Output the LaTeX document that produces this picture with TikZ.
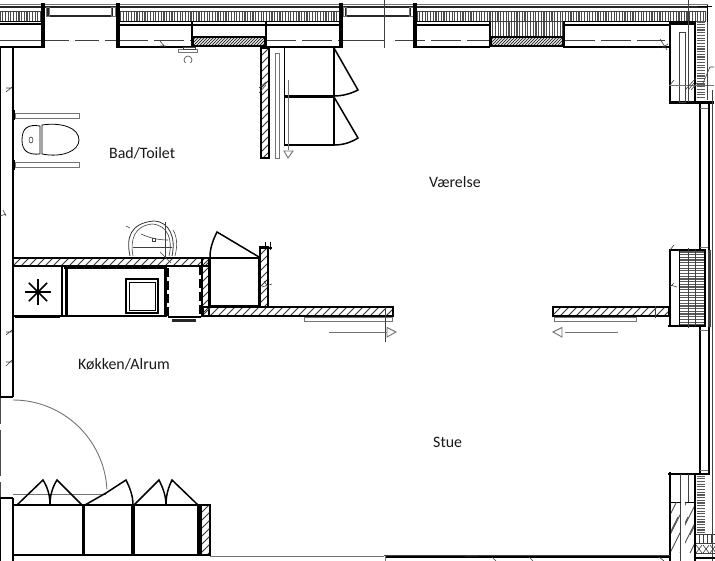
\documentclass[tikz,border=0pt]{standalone}
\usepackage{fontspec}
\setmainfont{Carlito}
\tikzset{
  wall/.style={line width=2pt,black},
  heavy/.style={line width=3.2pt,black},
  med/.style={line width=1.4pt,black!85},
  thin/.style={line width=.6pt,black!75},
  soft/.style={line width=.9pt,black!55},
  lab/.style={font=\fontsize{15.9}{18}\selectfont,inner sep=0pt,text=black!90},
}
\newcommand{\hatchbox}[5][6]{% spacing, x1 y1 x2 y2
  \begin{scope}
    \clip (#2,#3) rectangle (#4,#5);
    \pgfmathsetmacro{\hh}{#5-#3}
    \pgfmathsetmacro{\xs}{#2-\hh}
    \pgfmathsetmacro{\xn}{\xs+#1}
    \foreach \q in {\xs,\xn,...,#4} \draw[line width=1pt,black!80] (\q,#5) -- ++(\hh,-\hh);
  \end{scope}
  \draw[line width=1.1pt] (#2,#3) rectangle (#4,#5);
}
\newcommand{\vstripes}[4]{%
  \begin{scope}
    \clip (#1,#2) rectangle (#3,#4);
    \pgfmathsetmacro{\xn}{#1+2.7}
    \foreach \q in {#1,\xn,...,#3} \draw[line width=1.2pt,black!70] (\q,#2) -- (\q,#4);
  \end{scope}
  \draw[thin] (#1,#2) -- (#3,#2) (#1,#4) -- (#3,#4);
}
\newcommand{\hstripes}[4]{%
  \begin{scope}
    \clip (#1,#2) rectangle (#3,#4);
    \pgfmathsetmacro{\yn}{#2+2.7}
    \foreach \q in {#2,\yn,...,#4} \draw[line width=1.2pt,black!65] (#1,\q) -- (#3,\q);
  \end{scope}
}
\begin{document}
\begin{tikzpicture}[x=1pt,y=-1pt,line join=miter]
\useasboundingbox (0,0) rectangle (715,561);
\fill[white] (0,0) rectangle (715,561);

% ---- top facade lines
\draw[soft] (0,4) -- (708,4);
\draw[med] (0,7) -- (708,7);
% window frames in top
\draw[med] (48,7) rectangle (112,16);
\draw[soft] (46,7) rectangle (49,16) (111,7) rectangle (115,16);
\draw[med] (346,7) rectangle (410,16);
\draw[soft] (343,7) rectangle (346,16) (409,7) rectangle (414,16);
% striped insulation
\vstripes{0}{11}{43}{21}
\vstripes{118}{11}{340}{21}
\vstripes{417}{11}{706}{21}
\vstripes{490}{21}{563}{37}
% wall blocks
\draw[wall] (0,24.5) -- (43,24.5) (118,25) -- (340,25) (417,25) -- (490,25) (563,25) -- (670,25);
\draw[line width=.7pt] (0,21.5) -- (43,21.5) (118,21.5) -- (340,21.5) (417,21.5) -- (490,21.5) (563,21.5) -- (670,21.5);
\draw[wall] (0,47) -- (43,47) (118,47) -- (192,47) (266,47) -- (340,47) (417,47) -- (490,47) (563,47) -- (670,47);
% dashed centre line
\draw[thin] (0,40.5) -- (43,40.5) (340,40.5) -- (384,40.5);
\draw[thin,dash pattern=on 24pt off 6pt] (45,40.5) -- (118,40.5);
\draw[thin,dash pattern=on 30pt off 6pt] (118,40.5) -- (192,40.5) (266,40.5) -- (340,40.5);
\draw[thin,dash pattern=on 30pt off 6pt] (395,40.5) -- (490,40.5) (565,40.5) -- (665,40.5);
\draw[heavy] (43,3) -- (43,48) (118,3) -- (118,48) (341,3) -- (341,48) (415,3) -- (415,48);
\draw[wall] (192,22) -- (192,47) (266,22) -- (266,47) (490,22) -- (490,47) (564,22) -- (564,47);
\hatchbox[3]{193}{37}{265}{46}
\hatchbox[3]{491}{37}{563}{46}
% vertical reference lines
\draw[thin] (384.5,0) -- (384.5,48);
% small fittings
\draw[soft] (178,49) rectangle (197,52);
\draw[thin] (183,47) rectangle (195,49);
\draw[thin] (188,60) circle (4);
\fill[white] (180,63.5) rectangle (196,67);
\draw[thin] (160,41) -- (165,47) (160,46) -- (166,46);
% NE corner
\draw[heavy] (670,23) -- (696,23);
\draw[wall] (670,22) -- (670,103) (695,22) -- (695,103);
\draw[heavy] (669,102.5) -- (714,102.5);
\draw[thin] (679,32) rectangle (685,102) ;
\draw[soft] (669,85) -- (714,85);
\draw[thin] (688.5,0) -- (688.5,102);
\hstripes{696.5}{22}{705}{100}
\draw[thin] (685,90) -- (696,78) (688,90) -- (694,83) (691,90) -- (697,83) (670,85) -- (674,80);
\draw[line width=.7pt] (707,5) -- (707,22) (698,6) -- (712,6);
\draw[thin] (707,22) -- (707,100);
\draw[thin] (703,83) -- (710,67) -- (714,67);
\draw[thin] (660,39) -- (667,50) (662,48) -- (668,44);

% ---- right wall
\draw[wall] (700,104) -- (700,250) (700,327) -- (700,473);
\draw[wall] (708.5,104) -- (708.5,250);
\draw[line width=3.4pt,black!75] (709.5,250) -- (709.5,327);
\draw[wall] (708.5,327) -- (708.5,473);
\draw[soft] (700,108) -- (708,108);
\draw[thin] (712,90) -- (712,561);
\draw[soft] (700,247) -- (708,247) (700,330) -- (708,330) (700,470) -- (708,470);
% east closet
\draw[wall] (670,249) -- (670,327);
\draw[wall] (669,250.5) -- (706,250.5);
\draw[wall] (668,326) -- (706,326);
\draw[line width=.9pt] (679,250) -- (679,326);
\hstripes{680}{252}{705}{325}
\draw[thin] (688,248) -- (688,328) (695,250) -- (695,326);
\draw[wall] (705,250) -- (705,327);
\draw[thin] (670,250) -- (674,245) (670,285) -- (677,287) (674,283) -- (670,287);

% ---- SE corner
\draw[wall] (670,472) -- (670,561);
\draw[wall] (668,473.5) -- (710,473.5);
\draw[wall] (695,473) -- (695,561);
\draw[thin] (680,474) -- (680,561) (688,474) -- (688,502);
\draw[line width=.8pt] (670,502) -- (695,502);
\hstripes{696.5}{476}{705}{533}
\begin{scope}
\clip (671,502) rectangle (694,553);
\foreach \q in {660,670,...,720} \draw[line width=.8pt,black!75] (\q,553) -- ++(18,-36);
\foreach \q in {660,670,...,720} \draw[line width=.8pt,black!75] (\q,535) -- ++(18,-36);
\fill[white] (680.5,502) rectangle (685,553);
\end{scope}
\draw[thin] (696,534) -- (715,534) (696,543) -- (715,543) (696,553) -- (715,553);
\foreach \q in {699,703,...,715} \draw[thin] (\q,534) -- (\q,543);
\foreach \q in {696,703,710} \draw[thin] (\q,545) -- ++(6,8) (\q,553) -- ++(6,-8);
\draw[line width=1.4pt] (696,558) -- (715,558);

% ---- bottom line
\draw[soft] (210,556) -- (384,556);
\draw[wall] (385,557) -- (670,557);
\draw[soft] (385,561) -- (385,556);
\draw[thin] (384,555) -- (670,555);
\draw[thin] (492,557) -- (496,561) (529,557) -- (533,561) (659,557) -- (664,561) (465,556) -- (478,556);

% ---- left wall
\draw[wall] (12.5,47) -- (12.5,397);
\draw[line width=1.5pt] (.5,47) -- (.5,397);
\draw[wall] (0,397) -- (13,397);
\draw[line width=1.4pt,black!70,dash pattern=on 26pt off 6pt on 46pt off 6pt on 26pt off 4pt] (.5,398) -- (.5,497);
\draw[wall] (0,498) -- (12.5,498);
\draw[wall] (12.5,498) -- (12.5,561);
\draw[line width=1.5pt] (.5,498) -- (.5,561);
\draw[thin] (6,92) -- (12,87) (6,88) -- (12,88) (0,216) -- (6,214) (3,210) -- (6,216) (6,335) -- (12,330) (6,332) -- (12,332) (6,366) -- (12,360) (6,362) -- (12,362);

% ---- toilet
\draw[soft] (15,113) rectangle (79,118) (15,162) rectangle (79,167);
\draw[wall] (14,110) -- (14,120) (14,160) -- (14,170);
\draw[line width=.8pt] (40,126) .. controls (28,124) and (22,128) .. (22,140) .. controls (22,151) and (28,155) .. (40,154) -- (40,126) -- cycle;
\draw[line width=.8pt] (42,125) .. controls (62,122) and (79,128) .. (79,140) .. controls (79,151) and (62,158) .. (42,154) -- cycle;
\draw[thin] (31,140) ellipse (2 and 3);

% ---- bath wall
\hatchbox[8]{261}{48}{269}{158}
\draw[thin] (259,88) -- (266,82) (259,93) -- (266,85);
\draw[wall] (267,158) -- (269,158);
\draw[soft] (275,53) rectangle (279,158);
% wardrobes top
\draw[line width=1.5pt] (284.5,48) -- (284.5,145) -- (334,145) -- (334,48);
\draw[heavy] (284,96.5) -- (334,96.5);
\draw[soft] (288,80) -- (288,150);
\draw[soft] (284,151) -- (293,151) -- (288,158) -- cycle;
\draw[line width=1.5pt] (334,48) -- (358,90) .. controls (350,94) and (342,96) .. (334,96);
\draw[line width=1.5pt] (334,97) -- (358,138) .. controls (350,143) and (342,145) .. (334,145);

% ---- counter
\hatchbox[8]{13}{258}{209}{266}
\draw[wall] (13,266.5) -- (208,266.5);
\draw[wall] (13,316) -- (165,316);
\draw[wall] (61.5,266) -- (61.5,316);
\draw[line width=3pt] (66,266) -- (66,317);
\draw[line width=2.4pt] (64,268) -- (165,268);
\draw[line width=3pt] (165.5,266) -- (165.5,317);
\draw[line width=1pt] (67,317) -- (165,317);
\draw[line width=1.6pt] (15,317) -- (60,317);
\foreach \a in {0,45,90,135} \draw[line width=1.5pt] (38,292) ++(\a:13) -- ++(\a:-26);
\draw[wall] (126,279) rectangle (158,313);
\draw[line width=.8pt] (129,282) rectangle (155,310);
\draw[line width=2.2pt,dash pattern=on 9pt off 4pt] (168,268) -- (168,316);
\draw[line width=2.2pt,dash pattern=on 9pt off 4pt] (200,266) -- (200,316);
\draw[line width=2.4pt] (168,317) -- (201,317);
\draw[line width=3pt,black!85] (172,321) -- (196,321);
\hatchbox[8]{202}{258}{209}{316}
\draw[line width=2.4pt] (209.5,258) -- (209.5,307);
\draw[wall] (209,306) -- (260,306);
\draw[wall] (210,258) -- (259,258);
\draw[line width=2.6pt] (259,257) -- (259,307);
\draw[line width=1.5pt] (210,257) .. controls (210,248) and (213,240) .. (217,232) -- (259,257);
\hatchbox[8]{260}{247}{268}{307}
\draw[wall] (259,248) -- (272,248);
\draw[line width=1pt] (265,242) -- (265,250) (270,242) -- (270,250);
\draw[thin] (262,287) -- (272,284) (264,281) -- (268,287);
% sink
\draw[line width=.8pt,black!80] (130,256) .. controls (126,238) and (130,223) .. (154,221) .. controls (170,222) and (176,238) .. (172,256);
\draw[thin] (133,256) .. controls (130,240) and (134,226) .. (152,224) .. controls (168,225) and (173,240) .. (169,256);
\draw[thin] (133,247) -- (172,247);
\draw[thin] (141,234) .. controls (150,238) and (158,240) .. (168,240);
\draw[thin] (152,238) rectangle (155,241);
\draw[thin] (165,222) -- (165,258);
\draw[thin] (126,226) -- (130,228) (160,252) -- (171,263);
\draw[thin] (173,230) .. controls (178,238) and (177,248) .. (175,256);
% ---- horizontal partition
\hatchbox[8]{203}{307}{393}{316}
\draw[soft] (304,317.5) rectangle (392,321);
\draw[thin] (385,307) -- (385,342);
\draw[soft] (329,332) -- (387,332);
\draw[soft] (387,327.5) -- (396,332) -- (387,337) -- cycle;
% right partition
\hatchbox[8]{553}{307}{669}{316}
\draw[soft] (554,317.5) rectangle (636,321);
\draw[soft] (565,332) -- (618,332);
\draw[soft] (562,327.5) -- (553,332) -- (562,337) -- cycle;
\draw[thin] (655,306) -- (655,318);

% ---- lower left door + cabinets
\draw[soft] (13,400) arc[start angle=-90,end angle=-3,radius=94];
\draw[soft] (13,494) -- (106,494);
\draw[wall] (12.5,505) -- (210,505);
\draw[wall] (13,555) -- (209,555);
\draw[line width=3.4pt] (83.5,505) -- (83.5,555) (133,505) -- (133,555) (199,505) -- (199,555);
\hatchbox[8]{201}{505}{210}{555}
\draw[line width=1.5pt] (17,505) -- (43,480) .. controls (48,488) and (50,496) .. (50,505) .. controls (50,496) and (52,488) .. (57,480) -- (82,505);
\draw[line width=1.5pt] (85,505) -- (106,493) -- (126,480) .. controls (130,488) and (133,496) .. (133,505);
\draw[line width=1.5pt] (134,505) -- (159,480) .. controls (163,488) and (166,496) .. (166,505) .. controls (166,496) and (168,488) .. (172,480) -- (198,505);

% ---- labels
\node[lab,anchor=west] (bad) at (109,153) {Bad/Toilet};
\node[lab,anchor=west] (vaer) at (429,182) {Værelse};
\node[lab,anchor=west] (kok) at (78,364) {Køkken/Alrum};
\node[lab,anchor=west] (stue) at (433,442) {Stue};
\end{tikzpicture}
\end{document}
